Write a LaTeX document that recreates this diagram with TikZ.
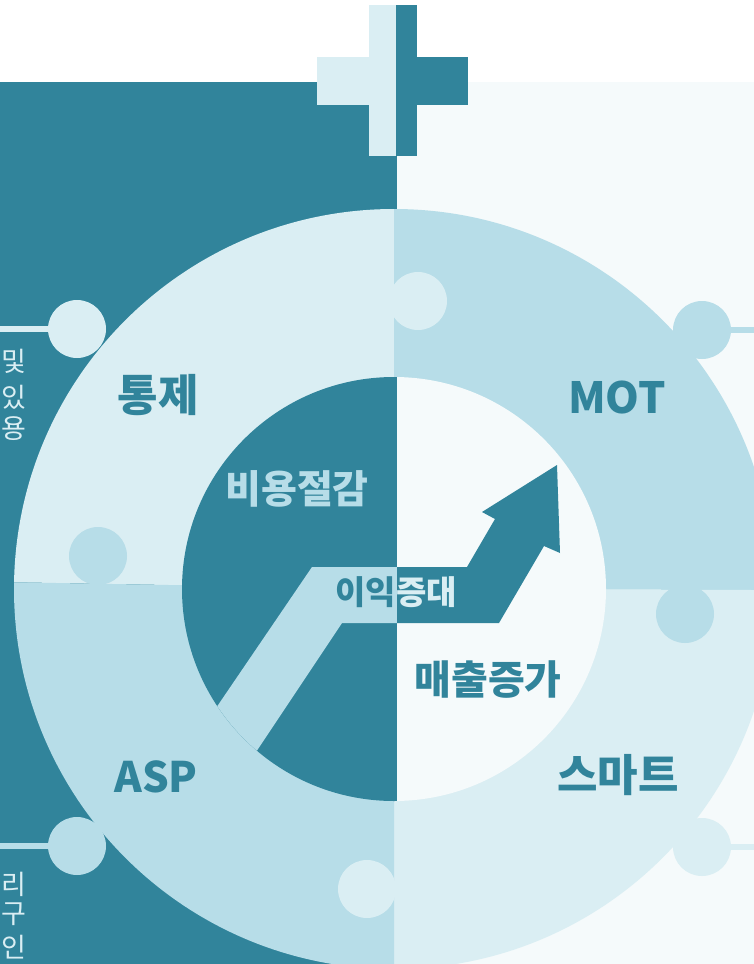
\documentclass[tikz,border=0pt]{standalone}
\usepackage{fontspec}
\setmainfont{Noto Sans CJK KR}
\definecolor{cDark}{HTML}{31849B}
\definecolor{cMid}{HTML}{B7DDE8}
\definecolor{cLight}{HTML}{DAEEF3}
\definecolor{cPale}{HTML}{F5FAFB}
\begin{document}
\begin{tikzpicture}[x=1pt,y=-1pt,
  knob/.style={circle, minimum size=58pt, inner sep=0pt, draw=none},
  lbl/.style={font=\bfseries\fontsize{44}{44}\selectfont, text=cDark, inner sep=0pt},
  midlbl/.style={font=\bfseries\fontsize{39}{39}\selectfont, inner sep=0pt},
  edgetxt/.style={font=\fontsize{27}{27}\selectfont, text=cLight, anchor=east, inner sep=0pt},
  link/.style={line width=6pt}
]
\useasboundingbox (0,0) rectangle (754,964);
\fill[white] (0,0) rectangle (754,964);
\fill[cDark] (0,82) rectangle (397,964);
\fill[cPale] (397,82) rectangle (754,964);
% plus sign
\fill[cLight] (369,5) rectangle (396,156);
\fill[cLight] (317,57) rectangle (396,105);
\fill[cDark] (396,5) rectangle (417,156);
\fill[cDark] (396,57) rectangle (468,105);
% outer connectors
\coordinate (lt) at (0,329);
\coordinate (lb) at (0,846);
\coordinate (rt) at (754,330);
\coordinate (rb) at (754,847);
\node[knob, fill=cLight] (ctl) at (77,329) {};
\node[knob, fill=cMid] (cbl) at (77,846) {};
\node[knob, fill=cMid] (ctr) at (702,330) {};
\node[knob, fill=cLight] (cbr) at (702,847) {};
\draw[link, cLight] (lt) -- (ctl);
\draw[link, cMid] (lb) -- (cbl);
\draw[link, cMid] (rt) -- (ctr);
\draw[link, cLight] (rb) -- (cbr);
% ring
\begin{scope}
\clip (394,589) circle (380pt);
\fill[cLight] (394,589) -- (0,582) -- (0,0) -- (394,0) -- cycle;
\fill[cMid] (394,589) -- (394,0) -- (754,0) -- (754,590) -- cycle;
\fill[cLight] (394,589) -- (754,590) -- (754,964) -- (394,964) -- cycle;
\fill[cMid] (394,589) -- (394,964) -- (0,964) -- (0,582) -- cycle;
\end{scope}
% puzzle knobs
\node[knob, fill=cLight] (kt) at (418,301) {};
\node[knob, fill=cMid] (kl) at (98,556) {};
\node[knob, fill=cMid] (kr) at (685,614) {};
\node[knob, fill=cLight] (kb) at (367,889) {};
% inner circle
\def\bandpath{(312,567) -- (467,567) -- (495,519) -- (482,512) -- (557,465) -- (560,553) -- (544,546) -- (499,623) -- (342,623) -- (222,803) -- (182,758) -- cycle}
\begin{scope}
\clip (394,589) circle (212pt);
\fill[cDark] (0,0) rectangle (397,964);
\fill[cPale] (397,0) rectangle (754,964);
\begin{scope}
\clip (0,0) rectangle (397,964);
\fill[cMid] \bandpath;
\node[font=\bfseries\fontsize{33}{33}\selectfont, text=cDark, inner sep=0pt] (profit) at (396,592) {이익증대};
\end{scope}
\begin{scope}
\clip (397,0) rectangle (754,964);
\fill[cDark] \bandpath;
\node[font=\bfseries\fontsize{33}{33}\selectfont, text=cLight, inner sep=0pt] (profit2) at (396,592) {이익증대};
\end{scope}
\end{scope}
% labels
\node[midlbl, text=cMid] (cost) at (297,489) {비용절감};
\node[midlbl, text=cDark, font=\bfseries\fontsize{40}{40}\selectfont] (sales) at (488,680) {매출증가};
\node[lbl] (tong) at (158,395) {통제};
\node[lbl, font=\bfseries\fontsize{43}{43}\selectfont] (mot) at (617,397) {MOT};
\node[lbl, font=\bfseries\fontsize{42}{42}\selectfont] (asp) at (156,777) {ASP};
\node[lbl] (smart) at (618,775) {스마트};
% edge texts
\node[edgetxt] (e1) at (27,361) {및};
\node[edgetxt] (e2) at (27,397) {있};
\node[edgetxt] (e3) at (27,429) {용};
\node[edgetxt] (e4) at (27,884) {리};
\node[edgetxt] (e5) at (27,914) {구};
\node[edgetxt] (e6) at (27,947) {인};
\end{tikzpicture}
\end{document}
